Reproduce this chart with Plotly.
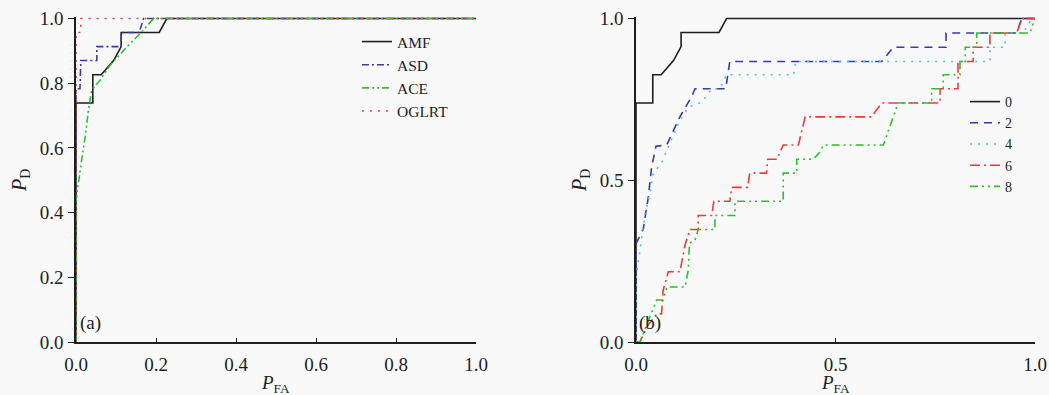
import plotly.graph_objects as go

W, H = 1049, 395

# ---------------- Panel (a): detectors ----------------
amf_pfa = [0, 0, 0.042, 0.042, 0.063, 0.094, 0.113, 0.113, 0.208, 0.227, 1.0]
amf_pd = [0, 0.739, 0.739, 0.826, 0.826, 0.870, 0.913, 0.957, 0.957, 1.0, 1.0]

asd_pfa = [0, 0, 0.010, 0.012, 0.052, 0.052, 0.113, 0.113, 0.158, 0.169, 1.0]
asd_pd = [0, 0.783, 0.783, 0.870, 0.870, 0.913, 0.913, 0.957, 0.957, 1.0, 1.0]

ace_pfa = [0, 0, 0.014, 0.023, 0.031, 0.039, 0.060, 0.085, 0.127, 0.160, 0.194, 1.0]
ace_pd = [0, 0.438, 0.562, 0.634, 0.716, 0.778, 0.809, 0.855, 0.912, 0.953, 1.0, 1.0]

oglrt_pfa = [0, 0, 0.012, 0.012, 1.0]
oglrt_pd = [0, 0.957, 0.957, 1.0, 1.0]

# ---------------- Panel (b): noise levels ----------------
b0_pfa = [0, 0, 0.042, 0.042, 0.063, 0.094, 0.113, 0.113, 0.208, 0.227, 1.0]
b0_pd = [0, 0.739, 0.739, 0.826, 0.826, 0.870, 0.913, 0.957, 0.957, 1.0, 1.0]

b2_pfa = [0, 0, 0.018, 0.031, 0.039, 0.050, 0.077, 0.110, 0.140, 0.148, 0.225, 0.235,
          0.616, 0.645, 0.777, 0.777, 0.954, 0.967, 1.0]
b2_pd = [0, 0.304, 0.348, 0.449, 0.540, 0.605, 0.609, 0.696, 0.760, 0.783, 0.783, 0.867,
         0.867, 0.911, 0.911, 0.955, 0.955, 1.0, 1.0]

b4_pfa = [0, 0, 0.010, 0.023, 0.035, 0.043, 0.068, 0.077, 0.110, 0.131, 0.165, 0.190,
          0.210, 0.227, 0.395, 0.400, 0.887, 0.887, 0.925, 0.925, 0.970, 0.992, 1.0]
b4_pd = [0, 0.200, 0.284, 0.398, 0.460, 0.520, 0.562, 0.593, 0.685, 0.726, 0.742, 0.783,
         0.783, 0.826, 0.826, 0.867, 0.867, 0.911, 0.911, 0.955, 0.955, 1.0, 1.0]

b6_pfa = [0, 0.010, 0.027, 0.052, 0.064, 0.068, 0.081, 0.110, 0.123, 0.135, 0.156, 0.156,
          0.190, 0.195, 0.235, 0.240, 0.280, 0.285, 0.327, 0.330, 0.353, 0.369, 0.407,
          0.415, 0.424, 0.590, 0.616, 0.762, 0.762, 0.807, 0.807, 0.845, 0.845, 0.887,
          0.887, 0.954, 0.967, 1.0]
b6_pd = [0, 0, 0.047, 0.087, 0.087, 0.160, 0.217, 0.217, 0.300, 0.348, 0.348, 0.391,
         0.391, 0.435, 0.435, 0.478, 0.478, 0.522, 0.522, 0.565, 0.565, 0.609, 0.609,
         0.652, 0.696, 0.696, 0.739, 0.739, 0.783, 0.783, 0.867, 0.867, 0.911, 0.911,
         0.955, 0.955, 1.0, 1.0]

b8_pfa = [0, 0.010, 0.035, 0.052, 0.068, 0.077, 0.123, 0.131, 0.134, 0.148, 0.156, 0.198,
          0.198, 0.248, 0.248, 0.369, 0.369, 0.403, 0.403, 0.444, 0.461, 0.470, 0.620,
          0.657, 0.741, 0.741, 0.770, 0.770, 0.812, 0.812, 0.825, 0.825, 0.854, 0.854,
          0.987, 1.0]
b8_pd = [0, 0, 0.078, 0.130, 0.130, 0.170, 0.170, 0.222, 0.305, 0.315, 0.348, 0.348,
         0.391, 0.391, 0.435, 0.435, 0.522, 0.522, 0.565, 0.565, 0.587, 0.609, 0.609,
         0.739, 0.739, 0.783, 0.783, 0.826, 0.826, 0.867, 0.867, 0.911, 0.911, 0.955,
         0.955, 1.0]

ticks_a = [0.0, 0.2, 0.4, 0.6, 0.8, 1.0]
ticks_b = [0.0, 0.5, 1.0]

FONT = "Liberation Serif, Times New Roman, serif"
BLACK = "#1e1e1e"
BLUE = "#3a3aa8"
GREEN = "#2fbf2f"
RED = "#f03a3a"
CYAN = "#48c4e2"
LW = 1.6

fig = go.Figure()

series_a = [
    ("AMF", amf_pfa, amf_pd, BLACK, "solid"),
    ("ASD", asd_pfa, asd_pd, BLUE, "7px,3px,2px,3px"),
    ("ACE", ace_pfa, ace_pd, GREEN, "7px,3px,2px,3px,2px,3px"),
    ("OGLRT", oglrt_pfa, oglrt_pd, RED, "2px,6px"),
]
for name, xs, ys, col, dash in series_a:
    fig.add_trace(go.Scatter(x=xs, y=ys, mode="lines", name=name,
                             line=dict(color=col, width=LW, dash=dash),
                             xaxis="x", yaxis="y", legend="legend"))

series_b = [
    ("0", b0_pfa, b0_pd, BLACK, "solid"),
    ("2", b2_pfa, b2_pd, BLUE, "8px,6px"),
    ("4", b4_pfa, b4_pd, CYAN, "2px,6px"),
    ("6", b6_pfa, b6_pd, RED, "10px,4px,2px,4px"),
    ("8", b8_pfa, b8_pd, GREEN, "8px,4px,2px,4px,2px,4px"),
]
for name, xs, ys, col, dash in series_b:
    fig.add_trace(go.Scatter(x=xs, y=ys, mode="lines", name=name,
                             line=dict(color=col, width=LW, dash=dash),
                             xaxis="x2", yaxis="y2", legend="legend2"))

y_dom = [53 / H, (H - 16.9) / H]
common_x = dict(range=[0, 1.0], ticks="inside", ticklen=4, tickwidth=1.2, tickcolor=BLACK,
                showline=True, linecolor=BLACK, linewidth=1.5, showgrid=False,
                zeroline=False, tickformat=".1f", ticklabelstandoff=4,
                tickfont=dict(family=FONT, size=19, color=BLACK))
common_y = dict(range=[0, 1.005], ticks="outside", ticklen=6, tickwidth=1.2, tickcolor=BLACK,
                showline=True, linecolor=BLACK, linewidth=1.5, showgrid=False,
                zeroline=False, tickformat=".1f", domain=y_dom, ticklabelstandoff=1,
                tickfont=dict(family=FONT, size=19, color=BLACK))

fig.update_layout(
    width=W, height=H,
    margin=dict(l=0, r=0, t=0, b=0, autoexpand=False),
    paper_bgcolor="#f9f9f9", plot_bgcolor="#f9f9f9",
    font=dict(family=FONT, color=BLACK),
    xaxis=dict(domain=[76 / W, 476 / W], anchor="y", tickvals=ticks_a, **common_x),
    yaxis=dict(anchor="x", tickvals=ticks_a, **common_y),
    xaxis2=dict(domain=[636 / W, 1035 / W], anchor="y2", tickvals=ticks_b, **common_x),
    yaxis2=dict(anchor="x2", tickvals=ticks_b, **common_y),
    legend=dict(x=357 / W, y=(H - 25) / H, xanchor="left", yanchor="top",
                bgcolor="rgba(0,0,0,0)", font=dict(family=FONT, size=15.5, color=BLACK),
                itemwidth=30, tracegroupgap=0),
    legend2=dict(x=965 / W, y=(H - 86) / H, xanchor="left", yanchor="top",
                 bgcolor="rgba(0,0,0,0)", font=dict(family=FONT, size=14, color=BLACK),
                 itemwidth=30, tracegroupgap=0),
    showlegend=True,
)

ann = []
for cx in (276, 835):
    ann.append(dict(x=cx / W, y=(H - 384) / H, xref="paper", yref="paper",
                    xanchor="center", yanchor="middle",
                    text="<i>P</i><sub>FA</sub>", showarrow=False,
                    font=dict(family=FONT, size=19, color=BLACK)))
for cx in (20, 580):
    ann.append(dict(x=cx / W, y=(H - 181) / H, xref="paper", yref="paper",
                    xanchor="center", yanchor="middle",
                    text="<i>P</i><sub>D</sub>", showarrow=False, textangle=-90,
                    font=dict(family=FONT, size=20, color=BLACK)))
for cx, lab in ((90, "(a)"), (650, "(b)")):
    ann.append(dict(x=cx / W, y=(H - 323) / H, xref="paper", yref="paper",
                    xanchor="center", yanchor="middle",
                    text=lab, showarrow=False,
                    font=dict(family=FONT, size=19, color=BLACK)))
fig.update_layout(annotations=ann)

fig.write_html("out.html")
